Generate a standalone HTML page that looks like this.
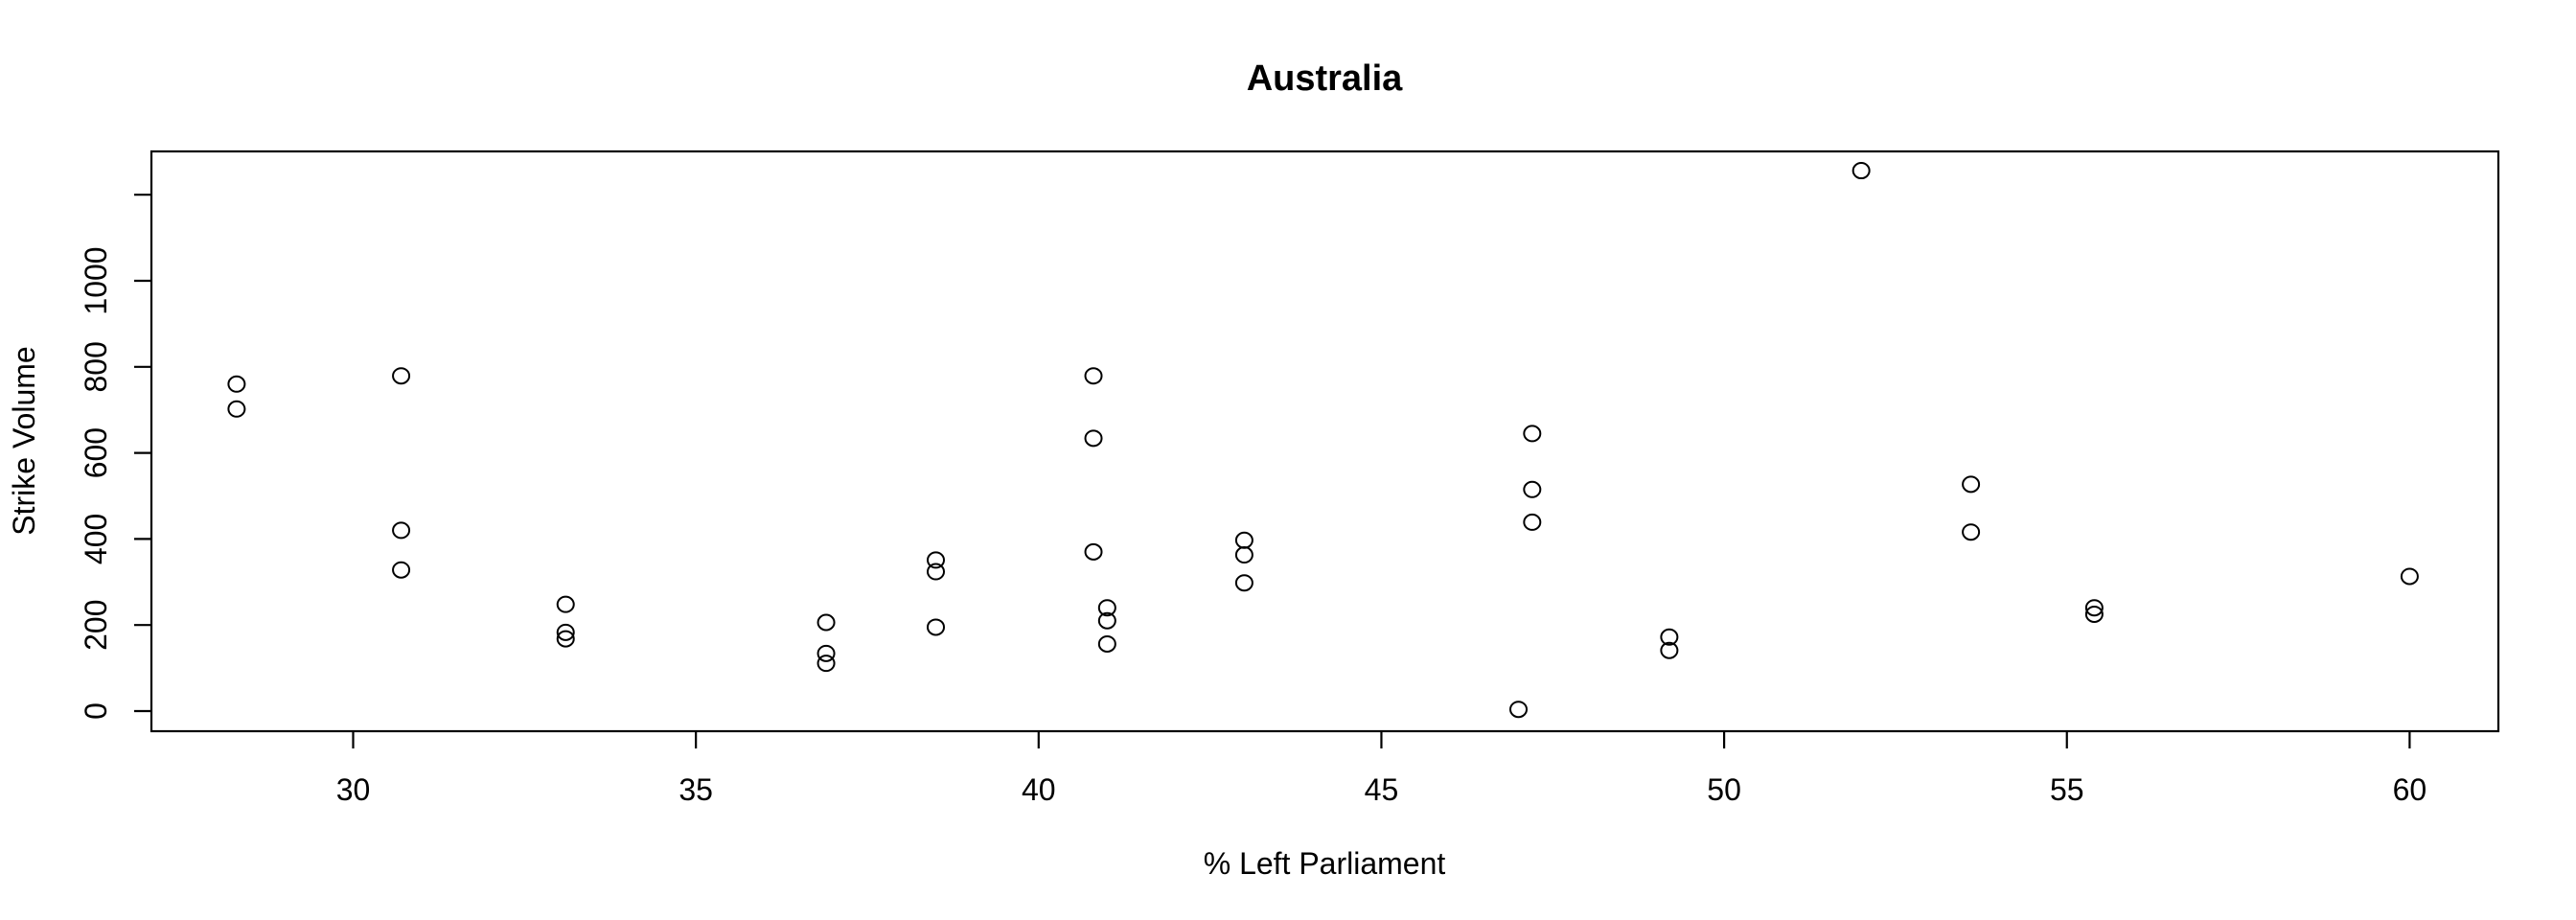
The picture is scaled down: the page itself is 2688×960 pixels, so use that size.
<!DOCTYPE html>
<html><head><meta charset="utf-8"><style>
html,body{margin:0;padding:0;background:#fff;}
svg{display:block;font-family:"Liberation Sans",Arial,sans-serif;}
</style></head><body>
<svg id="chart" width="2688" height="960" viewBox="0 0 2688 960" xmlns="http://www.w3.org/2000/svg">
<text x="1382" y="94" text-anchor="middle" font-size="38" font-weight="bold">Australia</text>
<rect x="158" y="158" width="2449" height="605" fill="none" stroke="#000" stroke-width="2.2"/>
<g id="xaxis"></g>
<g id="yaxis"></g>
<g id="points"></g>
<text x="1382" y="912" text-anchor="middle" font-size="32">% Left Parliament</text>
<text transform="translate(36,460) rotate(-90)" text-anchor="middle" font-size="32">Strike Volume</text>
</svg>
<script>
const leftParliament = [28.3,28.3,30.7,30.7,30.7,33.1,33.1,33.1,36.9,36.9,36.9,38.5,38.5,38.5,40.8,40.8,40.8,41.0,41.0,41.0,43.0,43.0,43.0,47.0,47.2,47.2,47.2,49.2,49.2,52.0,53.6,53.6,55.4,55.4,60.0];
const strikeVolume = [760,702,779,420,328,248,183,168,206,134,111,351,324,195,779,634,370,240,210,156,397,363,298,4,645,515,439,172,141,1256,527,416,240,225,313];
const xTicks = [30,35,40,45,50,55,60];
const yTicks = [0,200,400,600,800,1000,1200];
const yTickLabels = ["0","200","400","600","800","1000",""];

const NS="http://www.w3.org/2000/svg";
function X(v){return 368.5+(v-30)*71.53;}
function Y(v){return 742-v*0.449;}
function mk(tag,attrs,parent){const e=document.createElementNS(NS,tag);for(const k in attrs)e.setAttribute(k,attrs[k]);parent.appendChild(e);return e;}
const xa=document.getElementById('xaxis'),ya=document.getElementById('yaxis'),pts=document.getElementById('points');
xTicks.forEach(t=>{
  const l=mk('line',{x1:X(t),x2:X(t),y1:763,y2:781,stroke:'#000','stroke-width':2.2},xa);
  
  
  const tx=mk('text',{x:X(t),y:835,'text-anchor':'middle','font-size':32},xa);
  tx.textContent=String(t);
  
  
});
yTicks.forEach((t,i)=>{
  const l=mk('line',{x1:140,x2:158,y1:Y(t),y2:Y(t),stroke:'#000','stroke-width':2.2},ya);
  
  
  const tx=mk('text',{transform:`translate(111,${Y(t)}) rotate(-90)`,'text-anchor':'middle','font-size':32},ya);
  tx.textContent=yTickLabels[i];
  
  
});
leftParliament.forEach((x,i)=>{
  const c=mk('ellipse',{cx:X(x),cy:Y(strikeVolume[i]),rx:8.5,ry:8,fill:'none',stroke:'#000','stroke-width':2},pts);
  
  
});
</script>
</body></html>
